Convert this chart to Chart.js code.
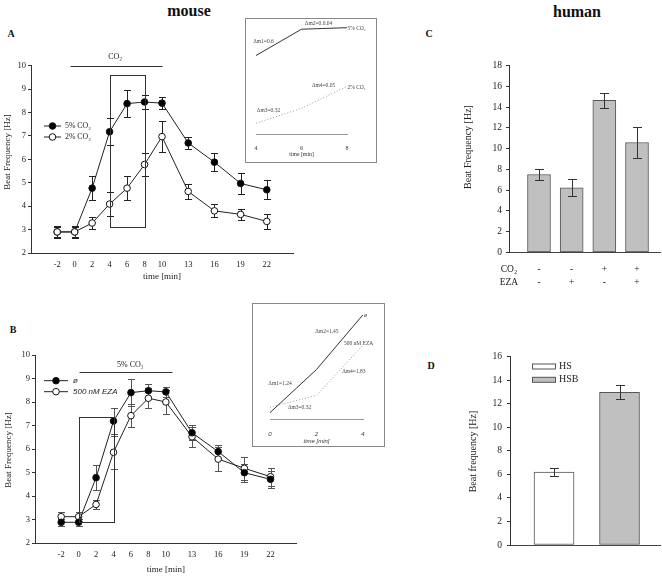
<!DOCTYPE html>
<html>
<head>
<meta charset="utf-8">
<script src="https://cdn.jsdelivr.net/npm/chart.js@4.4.0/dist/chart.umd.min.js"></script>
<style>
  body { margin: 0; background: #fff; width: 662px; height: 577px; position: relative; overflow: hidden; font-family: 'Liberation Serif', serif; }
  canvas { position: absolute; left: 0; top: 0; }
  .lbl { position: absolute; font-weight: bold; color: #111; transform: translate(-50%, -50%); white-space: nowrap; }
  .box { position: absolute; border: 1px solid #888; box-sizing: border-box; }
</style>
</head>
<body>
<div class="lbl" style="left:189px;top:11px;font-size:16px">mouse</div>
<div class="lbl" style="left:577px;top:12px;font-size:16px">human</div>
<div class="lbl" style="left:11px;top:33px;font-size:10px">A</div>
<div class="lbl" style="left:13px;top:329px;font-size:10px">B</div>
<div class="lbl" style="left:429px;top:33px;font-size:10px">C</div>
<div class="lbl" style="left:431px;top:365px;font-size:10px">D</div>
<div class="box" style="left:245px;top:18px;width:132px;height:145px"></div>
<div class="box" style="left:252px;top:303px;width:133px;height:144px"></div>
<canvas id="cA" width="662" height="577"></canvas>
<canvas id="cAi" width="662" height="577"></canvas>
<canvas id="cB" width="662" height="577"></canvas>
<canvas id="cBi" width="662" height="577"></canvas>
<canvas id="cC" width="662" height="577"></canvas>
<canvas id="cD" width="662" height="577"></canvas>
<script>
// ---- data ----
// A: mouse, beat frequency under 5% / 2% CO2
var timeA = [-2, 0, 2, 4, 6, 8, 10, 13, 16, 19, 22];
var co2HighA = [2.9, 2.9, 4.77, 7.18, 8.38, 8.45, 8.4, 6.7, 5.88, 4.97, 4.7];
var co2HighErrA = [0.25, 0.25, 0.52, 0.57, 0.57, 0.3, 0.25, 0.25, 0.37, 0.46, 0.41];
var co2LowA = [2.9, 2.9, 3.28, 4.09, 4.77, 5.78, 6.97, 4.63, 3.8, 3.65, 3.35];
var co2LowErrA = [0.22, 0.22, 0.26, 0.5, 0.5, 0.48, 0.67, 0.33, 0.28, 0.22, 0.33];

// B: mouse, control vs 500 nM EZA
var timeB = [-2, 0, 2, 4, 6, 8, 10, 13, 16, 19, 22];
var ctrlB = [2.88, 2.88, 4.78, 7.19, 8.4, 8.48, 8.43, 6.69, 5.89, 4.99, 4.71];
var ctrlErrB = [0.15, 0.15, 0.52, 0.55, 0.58, 0.3, 0.22, 0.32, 0.3, 0.39, 0.37];
var ezaB = [3.12, 3.12, 3.64, 5.86, 7.42, 8.16, 8.0, 6.52, 5.57, 5.18, 4.82];
var ezaErrB = [0.2, 0.2, 0.2, 0.69, 0.5, 0.43, 0.52, 0.42, 0.52, 0.5, 0.38];

// C: human
var co2Flags = ['-', '-', '+', '+'];
var ezaFlags = ['-', '+', '-', '+'];
var humanC = [7.5, 6.22, 14.65, 10.58];
var humanErrC = [0.52, 0.83, 0.7, 1.47];

// D: human
var groupsD = ['HS', 'HSB'];
var humanD = [6.2, 12.97];
var humanErrD = [0.35, 0.6];

var timeTicks = [-2, 0, 2, 4, 6, 8, 10, 13, 16, 19, 22];

// ---- helpers ----
var W = 662, H = 577;
var SERIF = "'Liberation Serif', 'Times New Roman', serif";
var SANS = "'Liberation Sans', Arial, sans-serif";
var INK = '#222';

function pts(xs, ys) { return xs.map(function (x, i) { return { x: x, y: ys[i] }; }); }
function pick(xs, ys, lo, hi) { return pts(xs, ys).filter(function (p) { return p.x >= lo && p.x <= hi; }); }
function pad(a, yw, xh) { return { left: a.l - yw, top: a.t, right: W - a.r, bottom: H - a.b - xh }; }
function fixW(w) { return function (s) { s.width = w; }; }
function fixH(h) { return function (s) { s.height = h; }; }
function f(size, family, style) { return { size: size, family: family || SERIF, style: style || 'normal', weight: 'normal', lineHeight: 1.2 }; }

// error bars from dataset.errors
var errorBars = {
  id: 'errorBars',
  draw: function (chart, o) {
    var ctx = chart.ctx, y = chart.scales.y;
    chart.data.datasets.forEach(function (ds, i) {
      if (!ds.errors) return;
      var meta = chart.getDatasetMeta(i);
      ctx.save();
      ctx.strokeStyle = ds.errorColor || o.color || '#333';
      ctx.lineWidth = 1;
      meta.data.forEach(function (el, j) {
        var v = ds.data[j].y, e = ds.errors[j];
        var top = Math.round(y.getPixelForValue(v + e)) + 0.5;
        var bot = Math.round(y.getPixelForValue(v - e)) + 0.5;
        var x = Math.round(el.x) + 0.5, c = o.cap / 2;
        ctx.beginPath();
        ctx.moveTo(x, top); ctx.lineTo(x, bot);
        ctx.moveTo(x - c, top); ctx.lineTo(x + c, top);
        ctx.moveTo(x - c, bot); ctx.lineTo(x + c, bot);
        ctx.stroke();
      });
      ctx.restore();
    });
  },
  beforeDatasetsDraw: function (chart, args, o) { if (!o.front) this.draw(chart, o); },
  afterDatasetsDraw: function (chart, args, o) { if (o.front) this.draw(chart, o); }
};

// boxes, period bars, free text, legend, y title
var decor = {
  id: 'decor',
  afterDraw: function (chart, args, o) {
    var ctx = chart.ctx, xs = chart.scales.x, ys = chart.scales.y;
    function px(v) { return Math.round(xs.getPixelForValue(v)) + 0.5; }
    function py(v) { return Math.round(ys.getPixelForValue(v)) + 0.5; }
    ctx.save();
    ctx.lineWidth = 1;
    (o.boxes || []).forEach(function (b) {
      ctx.strokeStyle = b.color;
      ctx.strokeRect(px(b.x[0]), py(b.y[1]), px(b.x[1]) - px(b.x[0]), py(b.y[0]) - py(b.y[1]));
    });
    (o.bars || []).forEach(function (b) {
      ctx.strokeStyle = b.color;
      ctx.beginPath(); ctx.moveTo(px(b.x[0]), py(b.y)); ctx.lineTo(px(b.x[1]), py(b.y)); ctx.stroke();
    });
    (o.texts || []).forEach(function (t) {
      ctx.font = Chart.helpers.toFont(t.font).string;
      ctx.fillStyle = t.color || INK;
      ctx.textAlign = t.align || 'center';
      ctx.textBaseline = 'middle';
      ctx.fillText(t.text, xs.getPixelForValue(t.x), ys.getPixelForValue(t.y));
    });
    var lg = o.legend;
    if (lg) {
      lg.items.forEach(function (it, k) {
        var y = lg.y + k * lg.dy;
        var ds = chart.data.datasets[it.ds];
        if (lg.kind === 'line') {
          ctx.strokeStyle = ds.borderColor;
          ctx.beginPath(); ctx.moveTo(lg.x, y); ctx.lineTo(lg.x + lg.len, y); ctx.stroke();
          ctx.beginPath(); ctx.arc(lg.x + lg.len / 2, y, ds.pointRadius, 0, Math.PI * 2);
          ctx.fillStyle = ds.pointBackgroundColor; ctx.fill();
          ctx.strokeStyle = ds.pointBorderColor; ctx.stroke();
        } else {
          ctx.fillStyle = ds.backgroundColor[it.idx];
          ctx.fillRect(lg.x + 0.5, y - lg.h / 2 + 0.5, lg.len, lg.h);
          ctx.strokeStyle = ds.borderColor;
          ctx.strokeRect(lg.x + 0.5, y - lg.h / 2 + 0.5, lg.len, lg.h);
        }
        ctx.font = Chart.helpers.toFont(lg.font).string;
        ctx.fillStyle = INK; ctx.textAlign = 'left'; ctx.textBaseline = 'middle';
        ctx.fillText(it.text, lg.x + lg.len + lg.gap, y);
      });
    }
    if (o.yTitle) {
      var t = o.yTitle;
      ctx.translate(t.x, t.y); ctx.rotate(-Math.PI / 2);
      ctx.font = Chart.helpers.toFont(t.font).string;
      ctx.fillStyle = INK; ctx.textAlign = 'center'; ctx.textBaseline = 'middle';
      ctx.fillText(t.text, 0, 0);
    }
    ctx.restore();
  }
};

function base(extra) {
  var o = { responsive: false, animation: false, events: [], plugins: { legend: { display: false }, tooltip: { enabled: false } } };
  for (var k in extra) o[k] = extra[k];
  return o;
}
function hiddenY(min, max) {
  return { min: min, max: max, afterFit: fixW(0), ticks: { display: false }, grid: { display: false, drawTicks: false }, border: { display: false } };
}
function lineSet(label, data, errs, fill, order) {
  return { label: label, data: data, errors: errs, borderColor: '#222', borderWidth: 1, pointRadius: 3.3,
    pointBackgroundColor: fill, pointBorderColor: '#111', pointBorderWidth: 1, order: order };
}
function timeAxis(xh, ttl) {
  return { type: 'linear', min: -5, max: 25, afterFit: fixH(xh),
    afterBuildTicks: function (s) { s.ticks = timeTicks.map(function (v) { return { value: v }; }); },
    grid: { display: false, drawTicks: false }, border: { color: '#333' },
    ticks: { font: f(8.5), color: INK, padding: 7, maxRotation: 0, autoSkip: false },
    title: { display: true, text: ttl, font: f(9), color: INK, padding: 0 } };
}
function valueAxis(min, max, step, yw, size, padding) {
  return { min: min, max: max, afterFit: fixW(yw),
    ticks: { stepSize: step, font: f(size), color: INK, padding: padding },
    grid: { drawOnChartArea: false, drawTicks: true, tickLength: 3, color: '#333' }, border: { color: '#333' } };
}

// ---- A ----
var areaA = { l: 31, t: 65.7, r: 293, b: 253 };
new Chart(document.getElementById('cA'), {
  type: 'line',
  data: { datasets: [
    lineSet('5% CO₂', pts(timeA, co2HighA), co2HighErrA, '#000', 1),
    lineSet('2% CO₂', pts(timeA, co2LowA), co2LowErrA, '#fff', 0)
  ] },
  options: base({
    layout: { padding: pad(areaA, 20, 29.4) },
    scales: { x: timeAxis(29.4, 'time [min]'), y: valueAxis(2, 10, 1, 20, 8.5, 2) },
    plugins: {
      legend: { display: false }, tooltip: { enabled: false },
      errorBars: { cap: 7, color: '#222' },
      decor: {
        boxes: [{ x: [4, 8], y: [3.13, 9.62], color: '#333' }],
        bars: [{ x: [-0.5, 10], y: 10, color: '#333' }],
        texts: [{ text: 'CO₂', x: 4.64, y: 10.38, font: f(8) }],
        legend: { kind: 'line', x: 44, y: 126, dy: 11, len: 17, gap: 4, font: f(7.8), items: [{ ds: 0, text: '5% CO₂' }, { ds: 1, text: '2% CO₂' }] },
        yTitle: { text: 'Beat Frequency [Hz]', x: 8, y: 152, font: f(9) }
      }
    }
  }),
  plugins: [errorBars, decor]
});

// ---- A inset: slopes between 4 and 8 min ----
var areaAi = { l: 256, t: 20, r: 347, b: 134 };
new Chart(document.getElementById('cAi'), {
  type: 'line',
  data: { datasets: [
    { data: pick(timeA, co2HighA, 4, 8), borderColor: '#333', borderWidth: 1, pointRadius: 0 },
    { data: pick(timeA, co2LowA, 4, 8), borderColor: '#999', borderWidth: 1, borderDash: [1, 2], pointRadius: 0 }
  ] },
  options: base({
    layout: { padding: pad(areaAi, 0, 24) },
    scales: {
      x: { type: 'linear', min: 4, max: 8, afterFit: fixH(24), grid: { display: false, drawTicks: false }, border: { color: '#999' },
        ticks: { stepSize: 2, font: f(6), color: '#333', padding: 11 },
        title: { display: true, text: 'time [min]', font: f(5.8), color: '#333', padding: 0 } },
      y: hiddenY(3.6, 8.8)
    },
    plugins: {
      legend: { display: false }, tooltip: { enabled: false },
      decor: { texts: [
        { text: 'Δm1=0.6', x: 4.33, y: 7.81, font: f(5.5), color: '#444' },
        { text: 'Δm2=0.0.04', x: 6.75, y: 8.66, font: f(5.5), color: '#444' },
        { text: '5% CO₂', x: 8.02, y: 8.39, font: f(5.5), color: '#444', align: 'left' },
        { text: 'Δm4=0.05', x: 6.97, y: 5.79, font: f(5.5), color: '#444' },
        { text: '2% CO₂', x: 8.02, y: 5.74, font: f(5.5), color: '#444', align: 'left' },
        { text: 'Δm3=0.32', x: 4.55, y: 4.65, font: f(5.5), color: '#444' }
      ] }
    }
  }),
  plugins: [decor]
});

// ---- B ----
var areaB = { l: 35, t: 355, r: 296.7, b: 543 };
new Chart(document.getElementById('cB'), {
  type: 'line',
  data: { datasets: [
    lineSet('ø', pts(timeB, ctrlB), ctrlErrB, '#000', 0),
    lineSet('500 nM EZA', pts(timeB, ezaB), ezaErrB, '#fff', 1)
  ] },
  options: base({
    layout: { padding: pad(areaB, 20, 32.4) },
    scales: { x: timeAxis(32.4, 'time [min]'), y: valueAxis(2, 10, 1, 20, 8.5, 2) },
    plugins: {
      legend: { display: false }, tooltip: { enabled: false },
      errorBars: { cap: 7, color: '#555' },
      decor: {
        boxes: [{ x: [0, 4], y: [2.91, 7.35], color: '#333' }],
        bars: [{ x: [0, 10.7], y: 9.26, color: '#333' }],
        texts: [{ text: '5% CO₂', x: 5.93, y: 9.57, font: f(8) }],
        legend: { kind: 'line', x: 44, y: 380.7, dy: 11, len: 24, gap: 5, font: f(8, SANS, 'italic'), items: [{ ds: 0, text: 'ø' }, { ds: 1, text: '500 nM EZA' }] },
        yTitle: { text: 'Beat Frequency [Hz]', x: 9, y: 450, font: f(9) }
      }
    }
  }),
  plugins: [errorBars, decor]
});

// ---- B inset: slopes between 0 and 4 min ----
var areaBi = { l: 270, t: 310, r: 363, b: 419 };
new Chart(document.getElementById('cBi'), {
  type: 'line',
  data: { datasets: [
    { data: pick(timeB, ctrlB, 0, 4), borderColor: '#333', borderWidth: 1, pointRadius: 0 },
    { data: pick(timeB, ezaB, 0, 4), borderColor: '#999', borderWidth: 1, borderDash: [1, 2], pointRadius: 0 }
  ] },
  options: base({
    layout: { padding: pad(areaBi, 0, 26.3) },
    scales: {
      x: { type: 'linear', min: 0, max: 4, afterFit: fixH(26.3), grid: { display: false, drawTicks: false }, border: { color: '#999' },
        ticks: { stepSize: 2, font: f(6, SANS, 'italic'), color: '#333', padding: 12 },
        title: { display: true, text: 'time [min]', font: f(6, SANS, 'italic'), color: '#333', padding: 0 } },
      y: hiddenY(2.6, 7.4)
    },
    plugins: {
      legend: { display: false }, tooltip: { enabled: false },
      decor: { texts: [
        { text: 'ø', x: 4.04, y: 7.18, font: f(6, SERIF, 'italic'), color: '#333', align: 'left' },
        { text: 'Δm2=1.45', x: 2.45, y: 6.44, font: f(5.5), color: '#444' },
        { text: '500 nM EZA', x: 3.81, y: 5.93, font: f(5.5), color: '#444' },
        { text: 'Δm4=1.83', x: 3.61, y: 4.68, font: f(5.5), color: '#444' },
        { text: 'Δm1=1.24', x: 0.43, y: 4.17, font: f(5.5), color: '#444' },
        { text: 'Δm3=0.32', x: 1.27, y: 3.10, font: f(5.5), color: '#444' }
      ] }
    }
  }),
  plugins: [decor]
});

// ---- C ----
var areaC = { l: 509, t: 65.5, r: 660, b: 252.3 };
var labelsC = [['CO₂', 'EZA']].concat(co2Flags.map(function (c, i) { return [c, ezaFlags[i]]; }));
new Chart(document.getElementById('cC'), {
  type: 'bar',
  data: { datasets: [{
    data: humanC.map(function (v, i) { return { x: i + 1, y: v }; }), errors: humanErrC,
    backgroundColor: '#c0c0c0', borderColor: '#555', borderWidth: 1, borderSkipped: false, barThickness: 23
  }] },
  options: base({
    layout: { padding: pad(areaC, 20, 40) },
    scales: {
      x: { type: 'linear', min: 0.082, max: 4.704, offset: false, afterFit: fixH(40),
        afterBuildTicks: function (s) { s.ticks = [s.min, 1, 2, 3, 4].map(function (v) { return { value: v }; }); },
        grid: { display: false, drawTicks: false }, border: { color: '#444' },
        ticks: { font: { size: 9.5, family: SERIF, weight: 'normal', lineHeight: 1.34 }, color: INK, padding: 11, maxRotation: 0, autoSkip: false,
          callback: function (v, i) { return labelsC[i]; } } },
      y: valueAxis(0, 18, 2, 20, 9.5, 4)
    },
    plugins: {
      legend: { display: false }, tooltip: { enabled: false },
      errorBars: { cap: 9, color: '#333', front: true },
      decor: { yTitle: { text: 'Beat Frequency [Hz]', x: 468, y: 147, font: f(10) } }
    }
  }),
  plugins: [errorBars, decor]
});

// ---- D ----
var areaD = { l: 510, t: 356.7, r: 660, b: 545 };
new Chart(document.getElementById('cD'), {
  type: 'bar',
  data: { datasets: [{
    data: humanD.map(function (v, i) { return { x: i + 1, y: v }; }), errors: humanErrD,
    backgroundColor: ['#ffffff', '#c0c0c0'], borderColor: '#555', borderWidth: 1, borderSkipped: false, barThickness: 40
  }] },
  options: base({
    layout: { padding: pad(areaD, 20, 10) },
    scales: {
      x: { type: 'linear', min: 0.328, max: 2.618, offset: false, afterFit: fixH(10),
        grid: { display: false, drawTicks: false }, border: { color: '#444' }, ticks: { display: false } },
      y: valueAxis(0, 16, 2, 20, 9.5, 5)
    },
    plugins: {
      legend: { display: false }, tooltip: { enabled: false },
      errorBars: { cap: 9, color: '#333', front: true },
      decor: {
        legend: { kind: 'box', x: 532, y: 366, dy: 13.3, len: 23, h: 5, gap: 4, font: f(10),
          items: groupsD.map(function (g, i) { return { ds: 0, idx: i, text: g }; }) },
        yTitle: { text: 'Beat frequency [Hz]', x: 473, y: 451.5, font: f(10) }
      }
    }
  }),
  plugins: [errorBars, decor]
});
</script>
</body>
</html>
